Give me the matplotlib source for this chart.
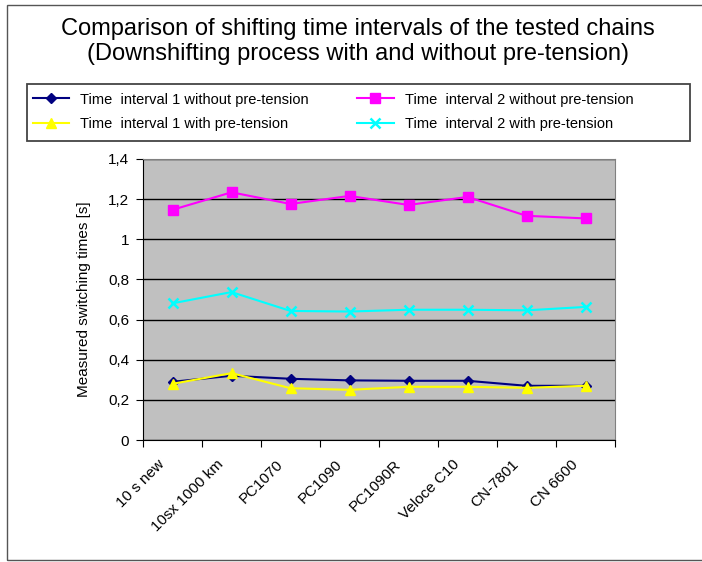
import numpy as np
import matplotlib
matplotlib.use("Agg")
import matplotlib.pyplot as plt
import matplotlib.transforms as mtransforms
from matplotlib.patches import Rectangle

plt.rcParams['font.family'] = ['Liberation Sans', 'DejaVu Sans']

# ── Data ─────────────────────────────────────────────────────────────────────

chains = ["10 s new", "10sx 1000 km", "PC1070", "PC1090", "PC1090R",
          "Veloce C10", "CN-7801", "CN 6600"]

t1_without = [0.29, 0.32, 0.305, 0.297, 0.295, 0.295, 0.27, 0.27]
t2_without = [1.147, 1.234, 1.176, 1.216, 1.171, 1.211, 1.117, 1.104]
t1_with = [0.28, 0.333, 0.258, 0.25, 0.265, 0.265, 0.26, 0.27]
t2_with = [0.681, 0.737, 0.643, 0.64, 0.649, 0.649, 0.646, 0.663]

y_ticks = [0, 0.2, 0.4, 0.6, 0.8, 1.0, 1.2, 1.4]
y_tick_labels = ["0", "0,2", "0,4", "0,6", "0,8", "1", "1,2", "1,4"]

# ── Figure ───────────────────────────────────────────────────────────────────

W, H = 702, 562
fig = plt.figure(figsize=(W / 100, H / 100), dpi=100)

# outer chart frame (runs off the right edge like the original)
fig.patches.append(Rectangle((7 / W, 2 / H), 1.0, 1 - 7 / H,
                             transform=fig.transFigure, fill=False,
                             edgecolor='#555555', linewidth=1.0))

ax = fig.add_axes([143 / W, 1 - 440 / H, (615 - 143) / W, (440 - 159) / H])
ax.set_facecolor('#C0C0C0')

x = np.arange(len(chains))
l1, = ax.plot(x, t1_without, color='#000080', marker='D', markersize=5,
              linewidth=1.5, label="Time  interval 1 without pre-tension", zorder=3)
l2, = ax.plot(x, t2_without, color='#FF00FF', marker='s', markersize=6.5,
              linewidth=1.5, label="Time  interval 2 without pre-tension", zorder=3)
l3, = ax.plot(x, t1_with, color='#FFFF00', marker='^', markersize=7,
              linewidth=1.5, label="Time  interval 1 with pre-tension", zorder=4)
l4, = ax.plot(x, t2_with, color='#00FFFF', marker='x', markersize=7,
              markeredgewidth=1.8, linewidth=1.5,
              label="Time  interval 2 with pre-tension", zorder=4)

ax.set_xlim(-0.5, len(chains) - 0.5)
ax.set_ylim(0, 1.4)
ax.set_yticks(y_ticks)
ax.set_yticklabels(y_tick_labels)
ax.yaxis.grid(True, color='black', linewidth=1.0)
ax.set_axisbelow(True)

# category boundaries get the tick marks, names sit between them
ax.set_xticks(np.arange(len(chains) + 1) - 0.5)
ax.set_xticklabels([])
ax.set_xticks(x, minor=True)
ax.set_xticklabels(chains, minor=True, rotation=45, ha='right', va='center',
                   rotation_mode='anchor', fontsize=11)
ax.tick_params(axis='x', which='minor', length=0, pad=16)
ax.tick_params(axis='x', which='major', length=5, direction='out', color='black')
ax.tick_params(axis='y', length=5, direction='out', labelsize=11, pad=5)
shift = mtransforms.ScaledTranslation(-10 / 100, 0, fig.dpi_scale_trans)
for lab in ax.get_xticklabels(minor=True):
    lab.set_transform(lab.get_transform() + shift)

for side in ['top', 'right']:
    ax.spines[side].set_color('#808080')
for side in ['left', 'bottom']:
    ax.spines[side].set_color('black')

ax.set_ylabel("Measured switching times [s]", fontsize=11, labelpad=12)

fig.text(358 / W, 1 - 41.5 / H,
         "Comparison of shifting time intervals of the tested chains\n"
         "(Downshifting process with and without pre-tension)",
         ha='center', va='center', fontsize=17, linespacing=1.2)

# legend box drawn separately so the columns can sit where they did
fig.patches.append(Rectangle((27 / W, 1 - 141 / H), (690 - 27) / W, 57 / H,
                             transform=fig.transFigure, fill=False,
                             edgecolor='#444444', linewidth=1.3))
fig.legend(handles=[l1, l3, l2, l4], ncol=2, loc='center left',
           bbox_to_anchor=(33 / W, 1 - 112 / H), frameon=False, fontsize=10.5,
           handlelength=2.5, handletextpad=0.75, columnspacing=3.3,
           borderpad=0, labelspacing=0.75, borderaxespad=0)

plt.savefig("out.png", dpi=100)
